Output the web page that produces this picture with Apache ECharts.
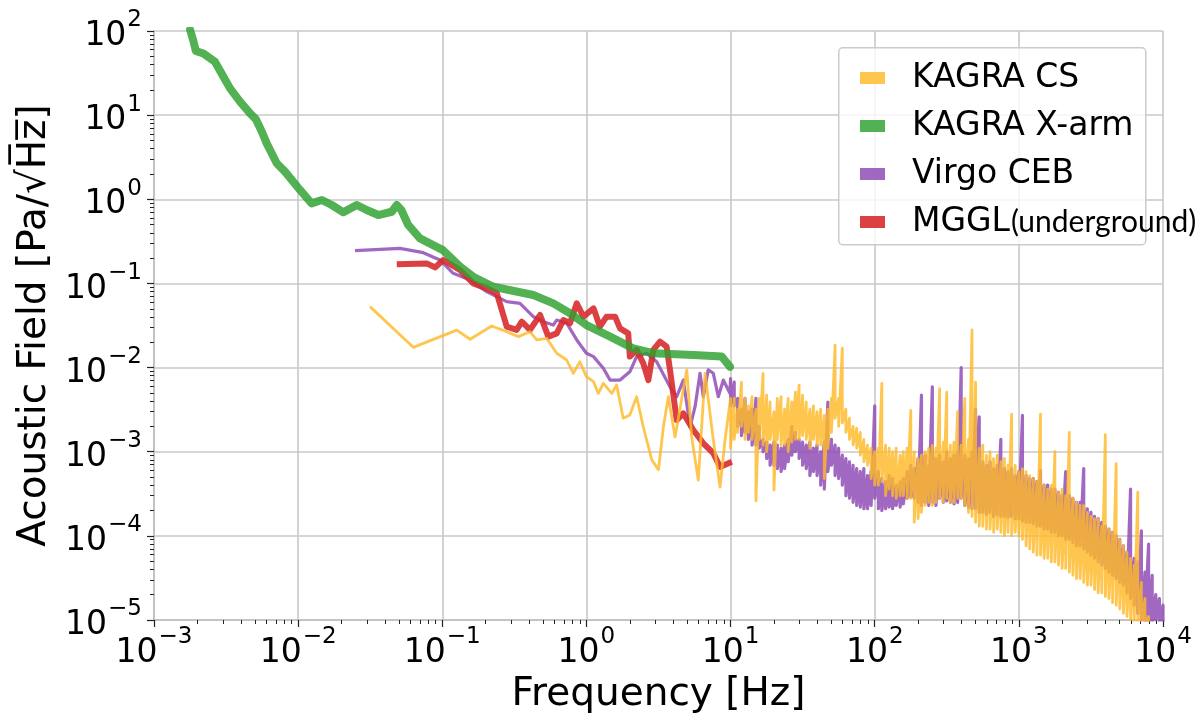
<!DOCTYPE html>
<html><head><meta charset="utf-8">
<script src="https://cdn.jsdelivr.net/npm/echarts@6/dist/echarts.min.js"></script>
<style>html,body{margin:0;padding:0;background:#fff}#c{width:1203px;height:721px}</style>
</head><body><div id="c"></div>
<script>
// ---------- data ----------
const seriesNames = ['KAGRA CS', 'KAGRA X-arm', 'Virgo CEB', 'MGGL(underground)'];
const xTickExps = [-3, -2, -1, 0, 1, 2, 3, 4];
const yTickExps = [-5, -4, -3, -2, -1, 0, 1, 2];

// KAGRA X-arm
const xarmF = [1.78e-3,1.87e-3,1.95e-3,2.2e-3,2.65e-3,2.95e-3,3.37e-3,3.95e-3,4.64e-3,5.1e-3,5.6e-3,6.05e-3,7.1e-3,8.1e-3,1.03e-2,1.24e-2,1.46e-2,1.71e-2,2.06e-2,2.55e-2,2.99e-2,3.6e-2,4.46e-2,4.83e-2,5.2e-2,5.8e-2,7.0e-2,0.101,0.133,0.164,0.226,0.428,0.589,0.769,1.0,1.46,2.11,2.91,5.51,8.68,9.9];
const xarmV = [103,78,58,54,43,31,20.8,14.5,10.5,8.9,6.35,4.62,2.68,2.13,1.29,0.895,0.98,0.855,0.70,0.855,0.746,0.65,0.711,0.855,0.746,0.495,0.343,0.249,0.158,0.120,0.0914,0.0728,0.058,0.0442,0.032,0.0233,0.0169,0.0148,0.0141,0.0135,0.0102];

// MGGL (underground)
const mgglF = [0.0483,0.078,0.089,0.1017,0.133,0.164,0.203,0.239,0.280,0.328,0.356,0.406,0.477,0.544,0.622,0.692,0.769,0.857,0.953,1.12,1.24,1.38,1.58,1.71,1.95,2.0,2.23,2.48,2.69,2.91,3.24,3.6,3.8,4.23,4.7,5.51,6.47,7.59,8.45,10.2];
const mgglV = [0.169,0.173,0.155,0.19,0.144,0.100,0.0875,0.0763,0.0306,0.028,0.0351,0.028,0.0422,0.0233,0.0255,0.0367,0.0336,0.058,0.0403,0.0506,0.0306,0.0403,0.0403,0.0292,0.0255,0.0135,0.0162,0.0112,0.0071,0.0162,0.0203,0.0177,0.0094,0.00238,0.00286,0.00181,0.00126,0.00096,0.00066,0.00076];

// Virgo CEB, below 10 Hz
const virgoLowF = [0.0248,0.0509,0.0738,0.0964,0.119,0.156,0.203,0.28,0.346,0.428,0.502,0.589,0.622,0.73,0.857,1.0,1.12,1.31,1.46,1.71,2.0,2.23,2.62,3.07,3.8,4.23,4.7,5.24,5.67,6.14,6.47,7.0,7.59,8.22,8.9,9.9];
const virgoLowV = [0.245,0.261,0.232,0.19,0.132,0.110,0.0798,0.0607,0.058,0.0403,0.0351,0.032,0.0367,0.0336,0.0213,0.0148,0.0135,0.0098,0.0071,0.0071,0.0089,0.0135,0.0148,0.0117,0.0059,0.0045,0.0071,0.00198,0.00343,0.00855,0.0045,0.0094,0.00855,0.0045,0.0071,0.00494];

// KAGRA CS, below 10 Hz
const csLowF = [0.0315,0.0629,0.126,0.156,0.220,0.28,0.337,0.406,0.452,0.53,0.622,0.73,0.811,0.90,1.0,1.12,1.21,1.31,1.5,1.62,1.8,2.0,2.23,2.48,2.84,3.16,3.42,3.7,4.12,4.97,5.37,5.97,6.65,7.59,8.45,9.15];
const csLowV = [0.053,0.0174,0.0279,0.0217,0.0312,0.0267,0.0233,0.0267,0.0213,0.0223,0.0148,0.0123,0.00855,0.0117,0.0078,0.0068,0.00494,0.0065,0.00494,0.0062,0.0025,0.00273,0.0045,0.00198,0.0008,0.00061,0.00198,0.0045,0.0015,0.0094,0.0015,0.00046,0.00855,0.00138,0.00038,0.00138];

// frequency bins above 10 Hz (shared by the two dense spectra)
const hfFreq = [10,10.6,11.2,11.9,12.6,13.3,14.1,15,15.8,16.8,17.8,18.8,20,21.1,22.4,23.7,25.1,26.6,28.2,29.9,31.6,33.5,35.5,37.6,39.8,42.2,44.7,47.3,50.1,53.1,56.2,59.6,63.1,66.8,70.8,75,79.4,84.1,89.1,94.4,
100,106,112,119,126,133,141,150,158,168,178,188,200,211,224,237,251,266,282,299,316,335,355,376,398,422,447,473,501,531,562,596,631,668,708,750,794,841,891,944,
1000,1059,1122,1189,1259,1334,1413,1496,1585,1679,1778,1884,1995,2113,2239,2371,2512,2661,2818,2985,3162,3350,3548,3758,3981,4217,4467,4732,5012,5309,5623,5957,6310,6683,7079,7499,7943,8414,8913,9441,10000];

// Virgo CEB above 10 Hz: upper and lower envelope of each bin
const virgoHiU = [7.4e-3,6.7e-3,4.3e-3,3.2e-3,4.3e-3,3.0e-3,3.2e-3,4.3e-3,2.0e-3,1.4e-3,
1.3e-3,1.2e-3,1.3e-3,1.2e-3,1.1e-3,1.2e-3,1.4e-3,2.0e-3,1.7e-3,1.4e-3,
1.3e-3,1.2e-3,1.3e-3,1.1e-3,1.2e-3,1.0e-3,1.3e-3,3.9e-3,1.4e-3,1.2e-3,
1.1e-3,9.1e-4,8.3e-4,7.6e-4,6.9e-4,6.3e-4,5.8e-4,6.3e-4,5.2e-4,5.8e-4,
3.5e-3,5.8e-4,4.8e-4,4.4e-4,5.2e-4,4.8e-4,4.0e-4,4.4e-4,4.8e-4,5.8e-4,
6.9e-4,6.3e-4,8.3e-4,4.7e-3,9.1e-4,6.9e-4,5.9e-3,8.3e-4,9.1e-4,7.6e-4,
1.0e-3,8.3e-4,9.1e-4,1.0e-3,1.0e-2,9.1e-4,8.3e-4,1.0e-3,3.2e-3,2.6e-3,
7.6e-4,6.9e-4,7.6e-4,6.3e-4,6.9e-4,1.4e-3,6.3e-4,5.8e-4,6.3e-4,5.2e-4,
5.8e-4,2.7e-3,5.2e-4,4.8e-4,4.8e-4,4.4e-4,6.0e-4,4.0e-4,4.0e-4,3.6e-4,
3.6e-4,3.3e-4,3.0e-4,5.8e-4,3.0e-4,2.8e-4,2.5e-4,2.5e-4,6.3e-4,2.1e-4,
1.9e-4,1.7e-4,1.6e-4,1.45e-4,1.3e-4,1.2e-4,1.1e-4,1.0e-4,9.1e-5,7.6e-5,
6.4e-5,3.6e-4,5.4e-5,4.9e-5,1.15e-4,3.7e-5,8.0e-5,3.4e-5,2.0e-5,1.8e-5,
1.5e-5];
const virgoHiL = [3.5e-3,3.5e-3,2.0e-3,1.55e-3,1.7e-3,1.4e-3,1.2e-3,1.2e-3,1.1e-3,1.0e-3,
8.3e-4,6.9e-4,6.9e-4,6.3e-4,5.8e-4,6.3e-4,7.6e-4,9.1e-4,1.0e-3,8.3e-4,
6.9e-4,6.3e-4,5.2e-4,5.8e-4,5.2e-4,4.0e-4,3.6e-4,5.8e-4,6.9e-4,5.2e-4,
4.8e-4,4.0e-4,3.0e-4,2.8e-4,2.5e-4,2.3e-4,2.2e-4,2.1e-4,2.1e-4,2.3e-4,
2.8e-4,2.1e-4,2.0e-4,2.1e-4,2.2e-4,2.1e-4,2.3e-4,2.2e-4,2.4e-4,2.8e-4,
2.9e-4,2.8e-4,2.5e-4,2.3e-4,2.5e-4,2.3e-4,2.5e-4,2.3e-4,2.8e-4,2.5e-4,
2.6e-4,2.5e-4,2.4e-4,2.5e-4,2.8e-4,2.3e-4,2.2e-4,2.1e-4,2.1e-4,1.9e-4,
1.9e-4,1.8e-4,1.9e-4,1.7e-4,1.8e-4,1.7e-4,1.7e-4,1.66e-4,1.7e-4,1.6e-4,
1.6e-4,1.5e-4,1.45e-4,1.45e-4,1.4e-4,1.3e-4,1.3e-4,1.2e-4,1.2e-4,1.1e-4,
1.1e-4,1.0e-4,1.0e-4,9.1e-5,9.1e-5,8.3e-5,7.6e-5,7.6e-5,7.0e-5,6.4e-5,
5.9e-5,5.4e-5,4.9e-5,4.5e-5,4.1e-5,3.7e-5,3.4e-5,3.1e-5,2.8e-5,2.6e-5,
2.1e-5,1.8e-5,1.5e-5,1.2e-5,1.0e-5,9.3e-6,8.9e-6,9.3e-6,1.0e-5,9.3e-6,
9.3e-6];

// KAGRA CS above 10 Hz: upper and lower envelope of each bin
const csHiU = [4.3e-3,4.3e-3,3.2e-3,6.7e-3,4.3e-3,3.5e-3,4.5e-3,3.2e-3,4.3e-3,8.5e-3,
4.7e-3,3.9e-3,3.0e-3,4.3e-3,4.5e-3,3.2e-3,4.3e-3,3.9e-3,5.1e-3,6.2e-3,
4.7e-3,3.9e-3,3.2e-3,3.5e-3,3.0e-3,3.2e-3,2.7e-3,3.2e-3,4.3e-3,1.85e-2,
4.3e-3,1.7e-2,3.2e-3,2.5e-3,2.0e-3,1.9e-3,1.7e-3,1.4e-3,1.2e-3,1.1e-3,
1.0e-3,1.1e-3,6.5e-3,1.2e-3,1.1e-3,1.0e-3,1.1e-3,9.1e-4,1.0e-3,1.1e-3,
3.1e-3,1.0e-3,8.3e-4,9.1e-4,1.0e-3,1.1e-3,1.2e-3,1.1e-3,5.6e-3,1.3e-3,
5.1e-3,1.2e-3,1.3e-3,3.0e-3,1.2e-3,4.3e-3,1.4e-3,2.8e-2,6.7e-3,1.1e-3,
1.2e-3,9.1e-4,1.0e-3,8.3e-4,9.1e-4,7.6e-4,8.3e-4,6.9e-4,2.8e-3,6.9e-4,
5.8e-4,6.3e-4,5.8e-4,5.2e-4,4.8e-4,4.4e-4,2.8e-3,4.0e-4,3.6e-4,4.0e-4,
1.0e-3,3.3e-4,3.6e-4,3.0e-4,1.7e-3,2.8e-4,2.5e-4,2.3e-4,2.3e-4,1.9e-4,
1.7e-4,1.6e-4,1.6e-4,1.3e-4,1.6e-3,1.2e-4,1.1e-4,7.2e-4,9.1e-5,7.6e-5,
6.4e-5,5.4e-5,4.5e-5,3.3e-4,2.8e-5,1.8e-5,1.1e-5];
const csHiL = [1.1e-3,1.4e-3,1.7e-3,2.0e-3,1.4e-3,1.7e-3,1.4e-3,2.6e-4,1.4e-3,1.2e-3,
1.0e-3,1.4e-3,3.5e-4,1.4e-3,1.2e-3,1.2e-3,1.0e-3,1.3e-3,1.4e-3,1.4e-3,
1.55e-3,1.4e-3,1.1e-3,1.4e-3,1.2e-3,1.2e-3,4.8e-4,1.1e-3,1.7e-3,2.5e-3,
2.0e-3,2.2e-3,1.7e-3,1.4e-3,1.2e-3,1.1e-3,9.1e-4,7.6e-4,6.9e-4,4.8e-4,
4.0e-4,4.0e-4,4.4e-4,3.0e-4,3.6e-4,3.0e-4,2.8e-4,3.0e-4,3.0e-4,2.8e-4,
2.8e-4,1.45e-4,1.6e-4,1.9e-4,2.3e-4,2.5e-4,2.3e-4,2.5e-4,2.8e-4,2.5e-4,
2.8e-4,2.5e-4,2.5e-4,2.8e-4,2.8e-4,2.3e-4,1.9e-4,1.7e-4,1.45e-4,1.3e-4,
1.3e-4,1.2e-4,1.2e-4,1.1e-4,1.2e-4,1.1e-4,1.0e-4,1.1e-4,1.0e-4,1.1e-4,
1.0e-4,9.1e-5,7.6e-5,7.0e-5,6.4e-5,5.9e-5,5.9e-5,5.4e-5,5.4e-5,4.9e-5,
4.9e-5,4.5e-5,4.1e-5,4.1e-5,3.7e-5,3.4e-5,3.1e-5,3.1e-5,2.8e-5,2.6e-5,
2.6e-5,2.3e-5,2.1e-5,2.1e-5,1.9e-5,1.8e-5,1.6e-5,1.5e-5,1.35e-5,1.2e-5,
1.1e-5,1.0e-5,9.8e-6,9.3e-6,8.9e-6,8.5e-6,8.0e-6];

// ---------- build series data ----------
function pairs(f, v) { return f.map((x, i) => [x, v[i]]); }
function band(f, up, lo) {
  const out = [];
  for (let i = 0; i < up.length; i++) { out.push([f[i], up[i]]); out.push([f[i], lo[i]]); }
  return out;
}
const csData = pairs(csLowF, csLowV).concat(band(hfFreq, csHiU, csHiL));
const virgoData = pairs(virgoLowF, virgoLowV).concat(band(hfFreq, virgoHiU, virgoHiL));
const xarmData = pairs(xarmF, xarmV);
const mgglData = pairs(mgglF, mgglV);

const minorX = [], minorY = [];
for (let d = -3; d < 4; d++) for (let m = 2; m < 10; m++) minorX.push(m * Math.pow(10, d));
for (let d = -5; d < 2; d++) for (let m = 2; m < 10; m++) minorY.push(m * Math.pow(10, d));

const FONT = 'DejaVu Sans';
const MINUS = '\u2212';
function expLabel(v) {
  const e = Math.round(Math.log10(v));
  return '{b|10}{s|' + (e < 0 ? MINUS + (-e) : e) + '}';
}
const labelRich = {
  b: { fontFamily: FONT, fontSize: 33, color: '#000', lineHeight: 44, verticalAlign: 'bottom' },
  s: { fontFamily: FONT, fontSize: 23, color: '#000', lineHeight: 44, verticalAlign: 'top', padding: [0, 0, 0, 1] }
};

const C_CS = 'rgba(255,186,40,0.82)';
const C_XARM = 'rgba(44,160,44,0.82)';
const C_VIRGO = 'rgba(145,78,182,0.85)';
const C_MGGL = 'rgba(214,39,40,0.88)';

const grid = { left: 154, right: 40, top: 31, bottom: 101, containLabel: false };
const chart = echarts.init(document.getElementById('c'), null, { renderer: 'canvas' });

const option = {
  animation: false,
  backgroundColor: '#fff',
  grid: grid,
  xAxis: [{
    type: 'log', logBase: 10, min: 1e-3, max: 1e4, interval: 1, splitNumber: 7,
    name: 'Frequency [Hz]', nameLocation: 'middle', nameGap: 49,
    nameTextStyle: { fontFamily: FONT, fontSize: 39, color: '#000' },
    axisLine: { show: true, onZero: false, lineStyle: { color: '#bdbdbd', width: 1.5 } },
    axisTick: { show: true, length: 7, lineStyle: { color: '#222', width: 1.2 } },
    axisLabel: { margin: 6, formatter: expLabel, rich: labelRich, customValues: xTickExps.map(e => Math.pow(10, e)) },
    splitLine: { show: true, lineStyle: { color: '#c8c8c8', width: 1.6 } }
  }, {
    type: 'log', logBase: 10, min: 1e-3, max: 1e4, position: 'bottom', gridIndex: 0,
    axisLine: { show: false }, axisLabel: { show: false }, splitLine: { show: false },
    axisTick: { show: true, length: 4, customValues: minorX, lineStyle: { color: '#222', width: 1 } }
  }],
  yAxis: [{
    type: 'log', logBase: 10, min: 1e-5, max: 1e2, interval: 1, splitNumber: 7,
    name: 'Acoustic Field [Pa/\u221AH\u0305z\u0305]', nameLocation: 'middle', nameGap: 96,
    nameTextStyle: { fontFamily: FONT, fontSize: 39, color: '#000' },
    axisLine: { show: true, onZero: false, lineStyle: { color: '#bdbdbd', width: 1.5 } },
    axisTick: { show: true, length: 7, lineStyle: { color: '#222', width: 1.2 } },
    axisLabel: { margin: 12, formatter: expLabel, rich: labelRich, customValues: yTickExps.map(e => Math.pow(10, e)) },
    splitLine: { show: true, lineStyle: { color: '#c8c8c8', width: 1.6 } }
  }, {
    type: 'log', logBase: 10, min: 1e-5, max: 1e2, position: 'left', gridIndex: 0,
    axisLine: { show: false }, axisLabel: { show: false }, splitLine: { show: false },
    axisTick: { show: true, length: 4, customValues: minorY, lineStyle: { color: '#222', width: 1 } }
  }],
  legend: {
    data: seriesNames, orient: 'vertical', left: 855, top: 54,
    icon: 'rect', itemWidth: 25, itemHeight: 12, itemGap: 10,
    backgroundColor: 'transparent', borderWidth: 0, z: 10,
    textStyle: { fontFamily: FONT, fontSize: 33, color: '#000', lineHeight: 38, padding: [0, 0, 0, 22],
      rich: { u: { fontFamily: 'Lato', fontSize: 30, color: '#000', lineHeight: 38, padding: [0, 0, 0, 1] } } },
    formatter: function (n) { return n === 'MGGL(underground)' ? 'MGGL{u|(underground)}' : n; }
  },
  graphic: [{
    type: 'rect', z: 9, left: 838, top: 47,
    shape: { width: 307, height: 197, r: 4 },
    style: { fill: 'rgba(255,255,255,0.8)', stroke: '#cccccc', lineWidth: 1.5 }
  }],
  series: [
    { name: 'Virgo CEB', type: 'line', data: virgoData, showSymbol: false, symbol: 'none', z: 2,
      itemStyle: { color: C_VIRGO }, lineStyle: { color: C_VIRGO, width: 3.2, join: 'round' } },
    { name: 'MGGL(underground)', type: 'line', data: mgglData, showSymbol: false, symbol: 'none', z: 3,
      itemStyle: { color: C_MGGL }, lineStyle: { color: C_MGGL, width: 6, join: 'round' } },
    { name: 'KAGRA X-arm', type: 'line', data: xarmData, showSymbol: false, symbol: 'none', z: 4,
      itemStyle: { color: C_XARM }, lineStyle: { color: C_XARM, width: 8, join: 'round', cap: 'round' } },
    { name: 'KAGRA CS', type: 'line', data: csData, showSymbol: false, symbol: 'none', z: 5,
      itemStyle: { color: C_CS }, lineStyle: { color: C_CS, width: 2.8, join: 'round' } }
  ]
};
chart.setOption(option);
</script>
</body></html>
